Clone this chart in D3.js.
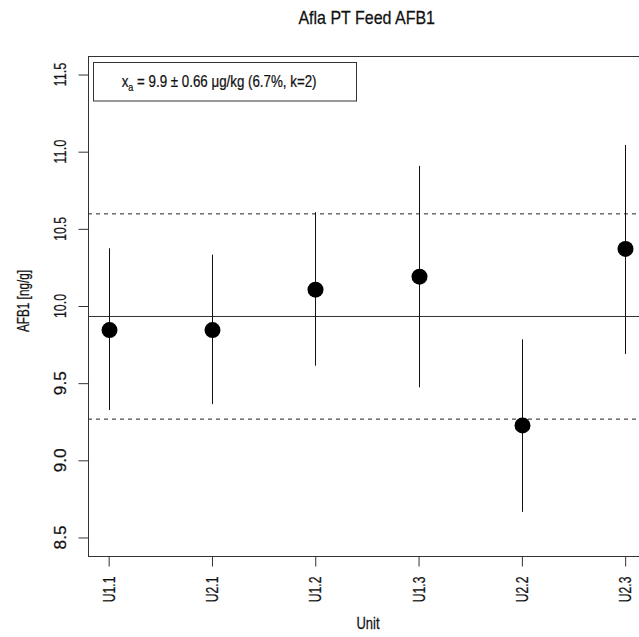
<!DOCTYPE html>
<html>
<head>
<meta charset="utf-8">
<script src="https://cdn.jsdelivr.net/npm/d3@7"></script>
<style>
  html, body { margin: 0; padding: 0; background: #fff; }
  svg text { font-family: "Liberation Sans Narrow", "Arial Narrow", "Liberation Sans", Arial, sans-serif; fill: #111; stroke: #111; stroke-width: 0.25px; }
</style>
</head>
<body>
<svg id="chart"></svg>
<script>
// unit labels along x
const units = ["U1.1", "U2.1", "U1.2", "U1.3", "U2.2", "U2.3"];
// reported value and the ends of each error bar [ng/g]
const values = [9.844, 9.844, 10.106, 10.190, 9.226, 10.370];
const lower  = [9.326, 9.364, 9.613, 9.473, 8.666, 9.689];
const upper  = [10.374, 10.333, 10.608, 10.908, 9.784, 11.044];
// assigned value and its expanded uncertainty
const assigned = 9.932;
const uncert = 0.665;
const yTicks = [8.5, 9.0, 9.5, 10.0, 10.5, 11.0, 11.5];

const W = 639, H = 637;
let svg = d3.select("#chart")
  .attr("width", W)
  .attr("height", H);

// plot region (R style: range extended by 4% on each side)
let plotLeft = 88, plotTop = 56, plotBottom = 556;
let pxPerUnit = 103.3;
let x = d3.scaleLinear()
  .domain([0.8, 6.2])
  .range([plotLeft, plotLeft + 5.4 * pxPerUnit]);
let ylo = 8.5 - 0.04 * 3, yhi = 11.5 + 0.04 * 3;
let y = d3.scaleLinear()
  .domain([ylo, yhi])
  .range([plotBottom, plotTop]);

// squeeze text horizontally so its length matches the target
const fit = (sel, target) => {
  let w = sel.node().getComputedTextLength();
  return target / w;
};

// reference lines
svg.append("line")
  .attr("x1", x(0.8)).attr("x2", x(6.2))
  .attr("y1", y(assigned)).attr("y2", y(assigned))
  .attr("stroke", "#333").attr("stroke-width", 1);
[assigned - uncert, assigned + uncert].forEach(v => {
  svg.append("line")
    .attr("x1", x(0.8)).attr("x2", x(6.2))
    .attr("y1", y(v)).attr("y2", y(v))
    .attr("stroke", "#222").attr("stroke-width", 1)
    .attr("stroke-dasharray", "4,4");
});

// error bars + points
let idx = d3.range(units.length);
svg.append("g").selectAll("line")
  .data(idx)
  .enter().append("line")
    .attr("x1", i => Math.round(x(i + 1)) + 0.5)
    .attr("x2", i => Math.round(x(i + 1)) + 0.5)
    .attr("y1", i => y(lower[i]))
    .attr("y2", i => y(upper[i]))
    .attr("stroke", "#111")
    .attr("stroke-width", 1);

svg.append("g").selectAll("circle")
  .data(idx)
  .enter().append("circle")
    .attr("cx", i => Math.round(x(i + 1)) + 0.5)
    .attr("cy", i => y(values[i]))
    .attr("r", 8)
    .attr("fill", "#000");

// frame
svg.append("rect")
  .attr("x", plotLeft + 0.5)
  .attr("y", plotTop + 0.5)
  .attr("width", x(6.2) - plotLeft)
  .attr("height", plotBottom - plotTop)
  .attr("fill", "none")
  .attr("stroke", "#333")
  .attr("stroke-width", 1);

// y axis
let yAxis = svg.append("g")
  .attr("transform", `translate(${plotLeft + 0.5},0)`)
  .call(d3.axisLeft(y).tickValues(yTicks).tickSize(10).tickFormat(d3.format(".1f")));
yAxis.select(".domain").remove();
yAxis.selectAll(".tick line").attr("stroke", "#333");
yAxis.selectAll(".tick text").remove();
yTicks.forEach(v => {
  let t = svg.append("text")
    .attr("text-anchor", "middle")
    .attr("font-size", 17)
    .text(d3.format(".1f")(v));
  let s = fit(t, 24);
  t.attr("transform", `translate(65.7,${y(v)}) rotate(-90) scale(${s},1)`);
});

// x axis
let xAxis = svg.append("g")
  .attr("transform", `translate(0,${plotBottom + 0.5})`)
  .call(d3.axisBottom(x).tickValues(idx.map(i => i + 1)).tickSize(10));
xAxis.select(".domain").remove();
xAxis.selectAll(".tick line").attr("stroke", "#333");
xAxis.selectAll(".tick text").remove();
idx.forEach(i => {
  let t = svg.append("text")
    .attr("text-anchor", "end")
    .attr("font-size", 17)
    .text(units[i]);
  let s = fit(t, 25.7);
  t.attr("transform", `translate(${x(i + 1) + 6},576.5) rotate(-90) scale(${s},1)`);
});

// titles
let title = svg.append("text")
  .attr("text-anchor", "middle")
  .attr("font-size", 17.5)
  .text("Afla PT Feed AFB1");
title.attr("transform", `translate(366.7,24) scale(${fit(title, 136.7)},1)`);

let xlab = svg.append("text")
  .attr("text-anchor", "middle")
  .attr("font-size", 17)
  .text("Unit");
xlab.attr("transform", `translate(368,629) scale(${fit(xlab, 23)},1)`);

let ylab = svg.append("text")
  .attr("text-anchor", "middle")
  .attr("font-size", 17)
  .text("AFB1 [ng/g]");
ylab.attr("transform", `translate(28.5,301) rotate(-90) scale(${fit(ylab, 62)},1)`);

// legend box
svg.append("rect")
  .attr("x", 93.5).attr("y", 62.5)
  .attr("width", 263).attr("height", 38.5)
  .attr("fill", "#fff")
  .attr("stroke", "#333")
  .attr("stroke-width", 1);
let leg = svg.append("text")
  .attr("font-size", 17);
leg.append("tspan").text("x");
leg.append("tspan").attr("font-size", 11.5).attr("dy", 4).text("a");
leg.append("tspan").attr("dy", -4).text(" = 9.9 ± 0.66 μg/kg (6.7%, k=2)");
let lw = leg.node().getBBox().width;
leg.attr("transform", `translate(121.7,87.3) scale(${195 / lw},1)`);
</script>
</body>
</html>
